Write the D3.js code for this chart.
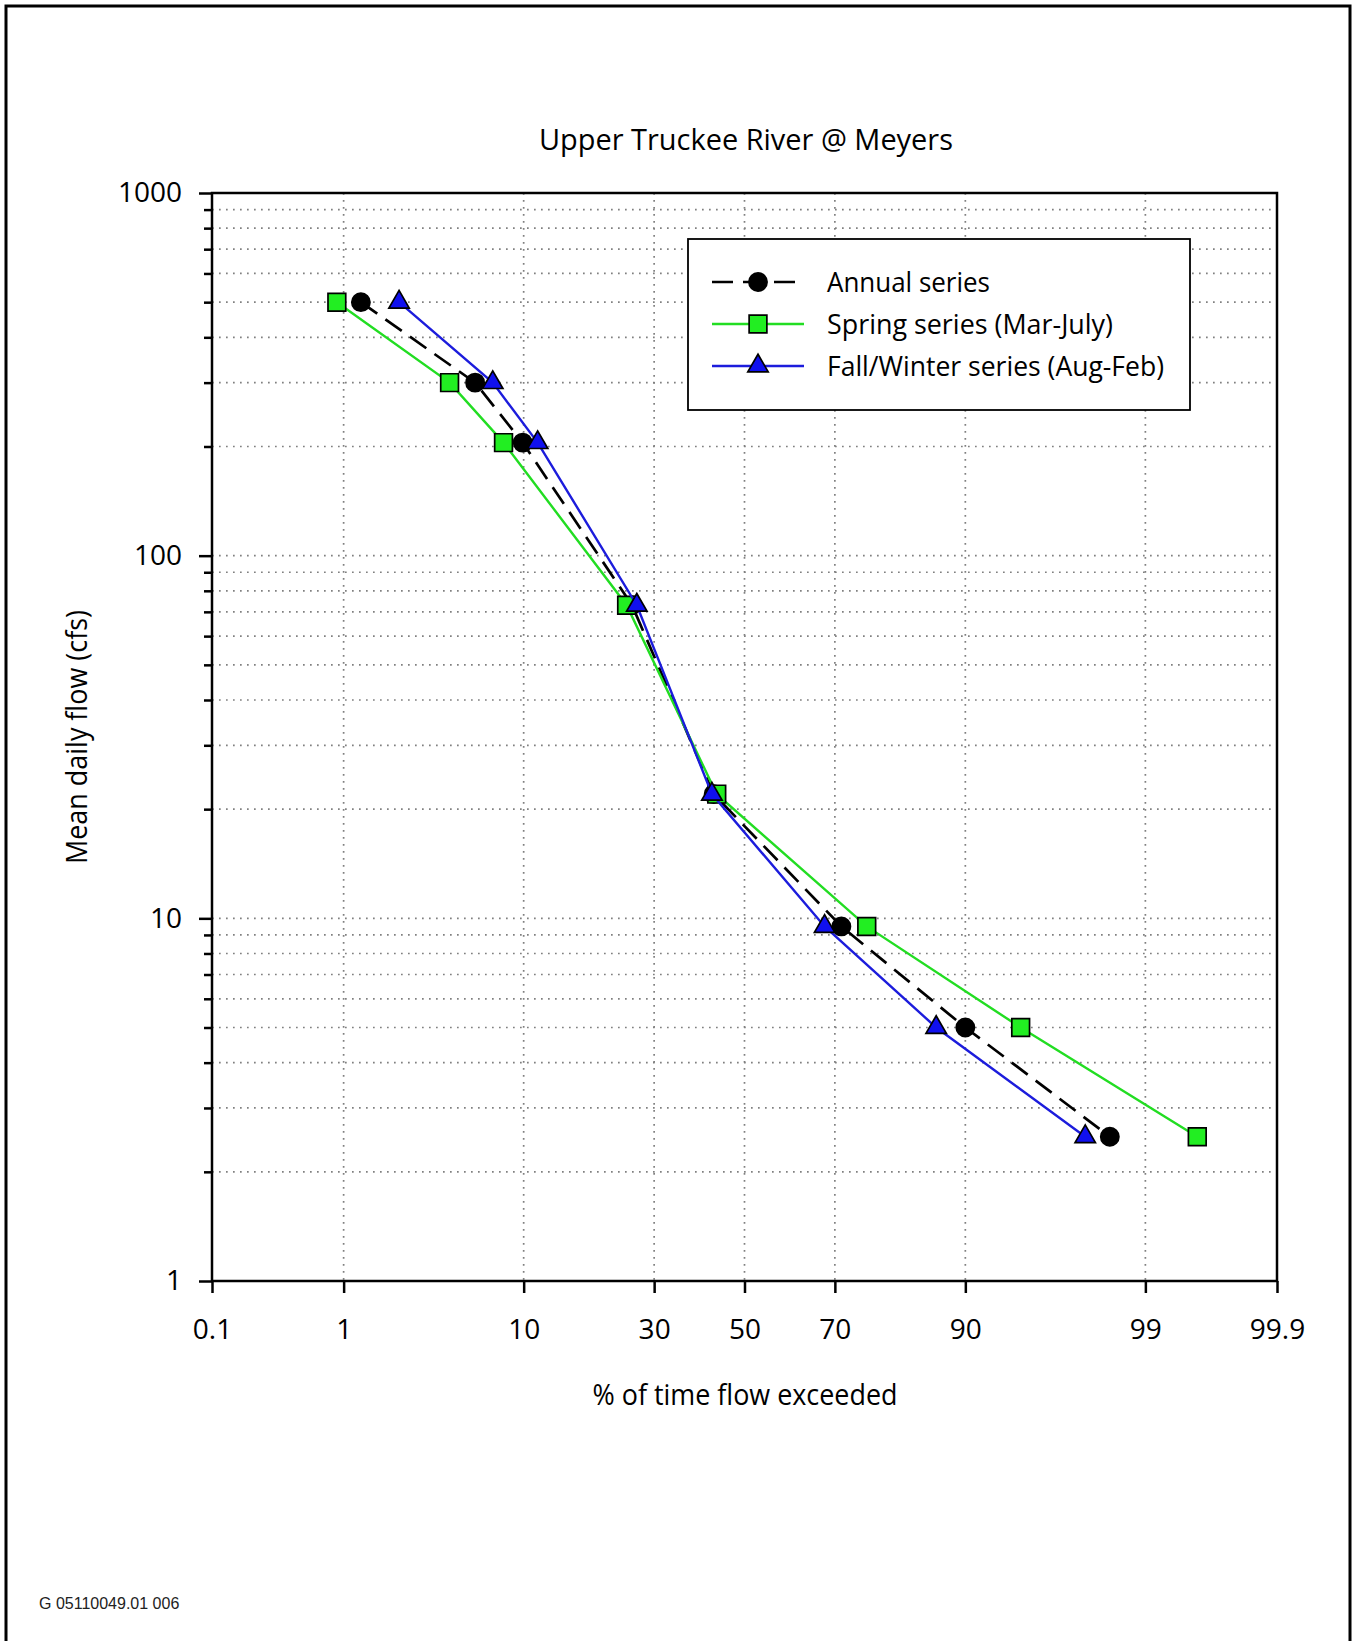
<!DOCTYPE html>
<html lang="en">
<head>
<meta charset="UTF-8">
<title>Upper Truckee River @ Meyers</title>
<script src="https://d3js.org/d3.v7.min.js"></script>
<style>
    body {
        margin: 0;
        padding: 0;
        background: #fff;
    }
    svg {
        display: block;
        font-family: "Open Sans", "Noto Sans", sans-serif;
    }
    .grid line {
        stroke: #808080;
        stroke-width: 1.7;
        stroke-dasharray: 1.7, 5.3;
    }
    .axis path {
        display: none;
    }
    .axis line {
        stroke: #000;
        stroke-width: 2.5;
    }
    .axis text {
        font-family: "Open Sans", "Noto Sans", sans-serif;
        font-size: 28px;
        fill: #000;
    }
</style>
</head>
<body>
<div id="chart"></div>
<script>
// flow levels (cfs) shared by the three duration curves
const flowLevels = [500, 300, 205, 73, 22, 9.5, 5, 2.5];
// % of time exceeded
const annualPct = [1.3, 5.9, 9.9, 25.7, 42.9, 71.3, 90.0, 98.3];
const springPct = [0.9, 4.35, 8.1, 24.7, 43.6, 76.1, 94.55, 99.57];
const fallPct = [2.25, 7.2, 11.5, 26.6, 42.5, 67.9, 86.7, 97.6];

const xTickValues = [0.1, 1, 10, 30, 50, 70, 90, 99, 99.9];
const xGridValues = [1, 10, 30, 50, 70, 90, 99];
const yMajorTicks = [1, 10, 100, 1000];
const yMinorSteps = [2, 3, 4, 5, 6, 7, 8, 9];

const width = 1353;
const height = 1641;
const plot = { left: 212, right: 1277, top: 193, bottom: 1281 };

// inverse normal cdf (Acklam) for the probability axis
function probit(p) {
    const a = [-3.969683028665376e+01, 2.209460984245205e+02, -2.759285104469687e+02, 1.383577518672690e+02, -3.066479806614716e+01, 2.506628277459239e+00];
    const b = [-5.447609879822406e+01, 1.615858368580409e+02, -1.556989798598866e+02, 6.680131188771972e+01, -1.328068155288572e+01];
    const c = [-7.784894002430293e-03, -3.223964580411365e-01, -2.400758277161838e+00, -2.549732539343734e+00, 4.374664141464968e+00, 2.938163982698783e+00];
    const d = [7.784695709041462e-03, 3.224671290700398e-01, 2.445134137142996e+00, 3.754408661907416e+00];
    const pl = 0.02425;
    let q, r;
    if (p < pl) {
        q = Math.sqrt(-2 * Math.log(p));
        return (((((c[0] * q + c[1]) * q + c[2]) * q + c[3]) * q + c[4]) * q + c[5]) /
            ((((d[0] * q + d[1]) * q + d[2]) * q + d[3]) * q + 1);
    }
    if (p > 1 - pl) {
        q = Math.sqrt(-2 * Math.log(1 - p));
        return -(((((c[0] * q + c[1]) * q + c[2]) * q + c[3]) * q + c[4]) * q + c[5]) /
            ((((d[0] * q + d[1]) * q + d[2]) * q + d[3]) * q + 1);
    }
    q = p - 0.5;
    r = q * q;
    return (((((a[0] * r + a[1]) * r + a[2]) * r + a[3]) * r + a[4]) * r + a[5]) * q /
        (((((b[0] * r + b[1]) * r + b[2]) * r + b[3]) * r + b[4]) * r + 1);
}

const zScale = d3.scaleLinear()
    .domain([probit(0.001), probit(0.999)])
    .range([plot.left, plot.right]);

// probability scale usable by d3.axis
function x(pct) { return zScale(probit(pct / 100)); }
x.copy = () => x;
x.domain = () => [0.1, 99.9];
x.range = () => zScale.range();

const y = d3.scaleLog()
    .domain([1, 1000])
    .range([plot.bottom, plot.top]);

const yMinorTicks = [];
[1, 10, 100].forEach(dec => yMinorSteps.forEach(s => yMinorTicks.push(dec * s)));

const svg = d3.select("#chart")
    .append("svg")
    .attr("width", width)
    .attr("height", height);

// outer frame
svg.append("rect")
    .attr("x", 6).attr("y", 6)
    .attr("width", width - 9).attr("height", height + 20)
    .attr("fill", "none")
    .attr("stroke", "#000")
    .attr("stroke-width", 3);

// grid
const grid = svg.append("g").attr("class", "grid");
grid.selectAll(".hg")
    .data(yMinorTicks.concat([10, 100]))
    .enter().append("line")
    .attr("x1", plot.left).attr("x2", plot.right)
    .attr("y1", d => y(d)).attr("y2", d => y(d));
grid.selectAll(".vg")
    .data(xGridValues)
    .enter().append("line")
    .attr("x1", d => x(d)).attr("x2", d => x(d))
    .attr("y1", plot.top).attr("y2", plot.bottom);

// axes
svg.append("g")
    .attr("class", "axis")
    .attr("transform", `translate(0,${plot.bottom})`)
    .call(d3.axisBottom(x).tickValues(xTickValues).tickSize(12).tickPadding(26).tickFormat(d => d));

svg.append("g")
    .attr("class", "axis")
    .attr("transform", `translate(${plot.left},0)`)
    .call(d3.axisLeft(y).tickValues(yMajorTicks).tickSize(13).tickPadding(17).tickFormat(d3.format("d")));

svg.append("g")
    .attr("class", "axis")
    .attr("transform", `translate(${plot.left},0)`)
    .call(d3.axisLeft(y).tickValues(yMinorTicks).tickSize(8).tickFormat(""));

svg.append("rect")
    .attr("x", plot.left).attr("y", plot.top)
    .attr("width", plot.right - plot.left).attr("height", plot.bottom - plot.top)
    .attr("fill", "none")
    .attr("stroke", "#000")
    .attr("stroke-width", 2.5);

// series
const series = [
    { name: "Annual series", pct: annualPct, line: "#000", fill: "#000", dash: "20,10", symbol: d3.symbolCircle, size: 260 },
    { name: "Spring series (Mar-July)", pct: springPct, line: "#22dd22", fill: "#22ee22", dash: null, symbol: d3.symbolSquare, size: 315 },
    { name: "Fall/Winter series (Aug-Feb)", pct: fallPct, line: "#1c1cdc", fill: "#1010ee", dash: null, symbol: d3.symbolTriangle, size: 180 }
];

const line = d3.line()
    .x(d => x(d[0]))
    .y(d => y(d[1]));

series.forEach(s => {
    const pts = s.pct.map((p, i) => [p, flowLevels[i]]);
    svg.append("path")
        .datum(pts)
        .attr("d", line)
        .attr("fill", "none")
        .attr("stroke", s.line)
        .attr("stroke-width", s.dash ? 2.7 : 2.4)
        .attr("stroke-dasharray", s.dash);
    svg.selectAll(null)
        .data(pts)
        .enter().append("path")
        .attr("transform", d => `translate(${x(d[0])},${y(d[1])})`)
        .attr("d", d3.symbol().type(s.symbol).size(s.size))
        .attr("fill", s.fill)
        .attr("stroke", "#000")
        .attr("stroke-width", 1.7);
});

// legend
const legend = svg.append("g");
legend.append("rect")
    .attr("x", 688).attr("y", 239)
    .attr("width", 502).attr("height", 171)
    .attr("fill", "#fff")
    .attr("stroke", "#000")
    .attr("stroke-width", 1.8);

const legendRows = [282, 324, 366];
const legendWidths = [163, 286, 337];
series.forEach((s, i) => {
    const g = legend.append("g").attr("transform", `translate(0,${legendRows[i]})`);
    g.append("line")
        .attr("x1", 712).attr("x2", 804)
        .attr("stroke", s.line)
        .attr("stroke-width", s.dash ? 2.7 : 2.4)
        .attr("stroke-dasharray", s.dash ? "21,10" : null);
    g.append("path")
        .attr("transform", "translate(758,0)")
        .attr("d", d3.symbol().type(s.symbol).size(s.size))
        .attr("fill", s.fill)
        .attr("stroke", "#000")
        .attr("stroke-width", 1.7);
    g.append("text")
        .attr("x", 827).attr("y", 10)
        .attr("font-size", 27)
        .attr("textLength", legendWidths[i])
        .attr("lengthAdjust", "spacingAndGlyphs")
        .text(s.name);
});

// titles
svg.append("text")
    .attr("x", 746).attr("y", 150)
    .attr("text-anchor", "middle")
    .attr("font-size", 29)
    .attr("textLength", 414)
    .attr("lengthAdjust", "spacingAndGlyphs")
    .text("Upper Truckee River @ Meyers");

svg.append("text")
    .attr("x", 745).attr("y", 1405)
    .attr("text-anchor", "middle")
    .attr("font-size", 29)
    .attr("textLength", 305)
    .attr("lengthAdjust", "spacingAndGlyphs")
    .text("% of time flow exceeded");

svg.append("text")
    .attr("transform", "translate(87,737) rotate(-90)")
    .attr("text-anchor", "middle")
    .attr("font-size", 29)
    .attr("textLength", 254)
    .attr("lengthAdjust", "spacingAndGlyphs")
    .text("Mean daily flow (cfs)");

svg.append("text")
    .attr("x", 39).attr("y", 1609)
    .attr("font-family", "Liberation Sans, Arial, sans-serif")
    .attr("font-size", 16)
    .attr("fill", "#222")
    .text("G 05110049.01 006");
</script>
</body>
</html>
